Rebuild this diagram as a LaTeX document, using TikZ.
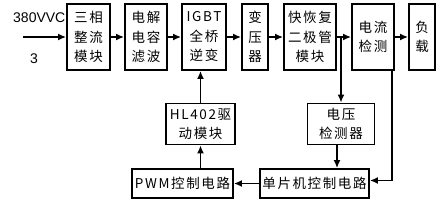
\documentclass[tikz,border=0pt]{standalone}
\usepackage{fontspec}
\setmainfont{Liberation Sans}
\newfontfamily\cjk[LetterSpace=12]{Noto Sans CJK SC}
\usetikzlibrary{arrows.meta}

\begin{document}
\begin{tikzpicture}[x=1pt, y=-1pt,
  blk/.style={draw, fill=white, line width=1.8pt, align=center, inner sep=0pt,
    font=\cjk\fontsize{13.5}{19.5}\selectfont},
  link/.style={line width=1.8pt, -{Latex[length=8pt, width=7pt]}}]
  \useasboundingbox (0,0) rectangle (446,208);
  % input labels
  \node[anchor=west, font=\fontsize{14}{16}\selectfont, inner sep=0pt] (vin) at (13,18) {380VVC};
  \node[font=\fontsize{14}{16}\selectfont, inner sep=0pt] (ph) at (34,59) {3};
  % main chain
  \node[blk, minimum width=43, minimum height=66] (rect)   at (88.5,37) {三相\\整流\\模块};
  \node[blk, minimum width=42, minimum height=66] (filt)   at (146,37)  {电解\\电容\\滤波};
  \node[blk, minimum width=44, minimum height=66] (inv)    at (204,37)  {IGBT\\全桥\\逆变};
  \node[blk, minimum width=26, minimum height=66] (trans)  at (255,37)  {变\\压\\器};
  \node[blk, minimum width=52, minimum height=66] (diode)  at (310,37)  {快恢复\\二极管\\模块};
  \node[blk, minimum width=42, minimum height=66] (isens)  at (373,37)  {电流\\检测};
  \node[blk, minimum width=26, minimum height=66] (load)   at (422,37)  {负\\载};
  % control part
  \node[blk, minimum width=67, minimum height=41] (vsens)  at (341,124) {电压\\检测器};
  \node[blk, minimum width=69, minimum height=41] (drv)    at (200.5,124) {HL402驱\\动模块};
  \node[blk, minimum width=101, minimum height=29] (pwm)   at (182.5,183.5) {PWM控制电路};
  \node[blk, minimum width=109, minimum height=29] (mcu)   at (314.5,183.5) {单片机控制电路};
  % connectors
  \coordinate (src) at (23,37);
  \coordinate (tap) at (341,37);
  \draw[link] (src) -- (rect);
  \draw[link] (rect) -- (filt);
  \draw[link] (filt) -- (inv);
  \draw[link] (inv) -- (trans);
  \draw[link] (trans) -- (diode);
  \draw[link] (diode) -- (isens);
  \draw[link] (isens) -- (load);
  \draw[link] (tap) -- (tap |- vsens.north);
  \draw[link] ([xshift=-4]vsens.south) -- ([xshift=-4]vsens.south |- mcu.north);
  \draw[link] ([xshift=-3]isens.south east) |- ([yshift=3]mcu.east);
  \draw[link] (mcu) -- (pwm);
  \draw[link] (pwm.north -| drv.south) -- (drv.south);
  \draw[link] (drv.north) -- (drv.north |- inv.south);
\end{tikzpicture}
\end{document}
